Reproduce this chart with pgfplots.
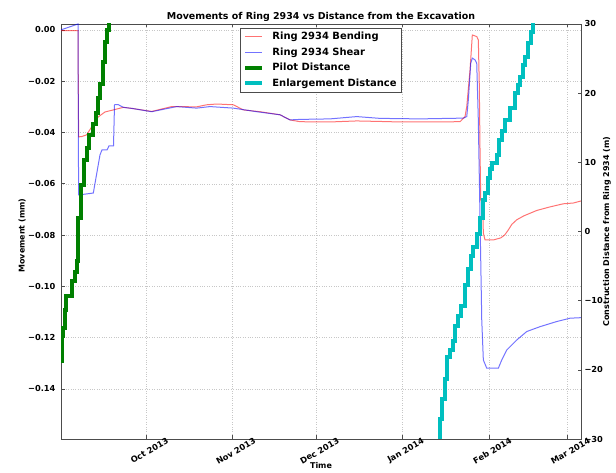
\documentclass[border=0pt]{standalone}
\usepackage{fontspec}
\setmainfont{DejaVu Sans}
\usepackage{pgfplots}
\pgfplotsset{compat=1.18}

\definecolor{pilotgreen}{RGB}{0,128,0}
\definecolor{enlcyan}{RGB}{0,191,191}

% x is days after 1 Sep 2013
\pgfplotsset{
  twin/.style={
    scale only axis, width=520bp, height=415bp,
    at={(61bp,34bp)}, anchor=south west,
    xmin=-0.5, xmax=186,
    axis line style={black!70, line width=0.8bp},
    tick style={black!70, line width=0.6bp},
    tick align=inside, major tick length=3.5bp,
    tick label style={font=\bfseries\fontsize{8.3}{10}\selectfont},
    label style={font=\bfseries\fontsize{8}{10}\selectfont},
  },
  bend/.style={red, draw opacity=0.55, line width=1bp},
  shear/.style={blue, draw opacity=0.55, line width=1bp},
}

\begin{document}
\begin{tikzpicture}[x=1bp,y=1bp]
\useasboundingbox (0,0) rectangle (616,473);

\begin{axis}[twin,
  ymin=-0.1595, ymax=0.0023,
  ytick pos=left,
  xtick={30,61,91,122,153,181},
  xticklabels={Oct 2013,Nov 2013,Dec 2013,Jan 2014,Feb 2014,Mar 2014},
  xticklabel style={rotate=30, anchor=center, yshift=-12bp, xshift=-3bp},
  ytick={0,-0.02,-0.04,-0.06,-0.08,-0.10,-0.12,-0.14},
  yticklabels={0.00,−0.02,−0.04,−0.06,−0.08,−0.10,−0.12,−0.14},
  yticklabel style={xshift=-2bp},
  grid=major, grid style={black!22, dotted, line width=0.5bp},
  title={Movements of Ring 2934 vs Distance from the Excavation},
  title style={font=\bfseries\fontsize{9.5}{11}\selectfont, yshift=-7bp},
  xlabel={Time},
  xlabel style={at={(axis description cs:0.5,0)}, anchor=center, yshift=-27bp},
  ylabel={Movement (mm)},
  ylabel style={at={(axis description cs:-0.075,0.49)}, anchor=center},
]
\addplot[bend] coordinates {
(-0.5,-0.0003) (5.6,-0.0003) (5.81,-0.0417) (6.92,-0.0416) (8.72,-0.0409)
(10.51,-0.0378) (12.88,-0.0339) (15.28,-0.0320) (18.26,-0.0312) (21.85,-0.0302)
(24.86,-0.0306) (32.03,-0.0318) (39.21,-0.0299) (48.17,-0.0300) (51.76,-0.0292)
(55.35,-0.0289) (61.3,-0.0292) (64.89,-0.0312) (70.88,-0.0319) (78.05,-0.0331)
(81.64,-0.0351) (85.23,-0.0358) (95.99,-0.0359) (105.56,-0.0355) (113.92,-0.0357)
(121.09,-0.0359) (128.27,-0.0359) (142.61,-0.0358) (144.41,-0.0338) (145.02,-0.0299)
(146.2,-0.0156) (147.02,-0.0020) (148.6,-0.0026) (149.17,-0.0039) (149.53,-0.0221)
(149.79,-0.0480) (150.04,-0.0663) (150.75,-0.0689) (150.97,-0.0792) (151.58,-0.0819)
(154.56,-0.0819) (157.2,-0.0811) (158.6,-0.0800) (159.8,-0.0782) (161.2,-0.0758)
(163.0,-0.0740) (165.5,-0.0725) (170.13,-0.0704) (174.9,-0.0690) (179.67,-0.0678)
(183.25,-0.0675) (186,-0.0667)
};
\addplot[shear] coordinates {
(-0.5,0.0) (5.6,0.0023) (5.81,-0.0643) (6.31,-0.0643) (11.09,-0.0636)
(13.49,-0.0487) (14.21,-0.0468) (16.0,-0.0468) (16.72,-0.0452) (18.33,-0.0452)
(18.69,-0.0292) (19.94,-0.0291) (21.85,-0.0302) (24.86,-0.0306) (32.03,-0.0319)
(41.0,-0.0299) (48.17,-0.0305) (52.94,-0.0299) (61.3,-0.0305) (69.69,-0.0319)
(78.05,-0.0331) (81.64,-0.0351) (85.23,-0.0349) (95.99,-0.0347) (105.56,-0.0338)
(113.92,-0.0345) (128.27,-0.0347) (143.8,-0.0344) (145.02,-0.0338) (145.59,-0.0273)
(146.45,-0.0130) (147.02,-0.0110) (148.0,-0.0117) (148.6,-0.0130) (149.17,-0.0351)
(149.79,-0.0741) (150.4,-0.1131) (150.97,-0.1287) (152.19,-0.1319) (156.35,-0.1319)
(157.57,-0.1287) (159.37,-0.1248) (162.95,-0.1209) (166.54,-0.1176) (171.31,-0.1157)
(177.3,-0.1137) (182.07,-0.1124) (186,-0.1122)
};
\end{axis}

\begin{axis}[twin,
  axis y line*=right, axis x line=none,
  ymin=-30, ymax=30,
  ytick={-30,-20,-10,0,10,20,30},
  yticklabels={−30,−20,−10,0,10,20,30},
  ylabel={Construction Distance from Ring 2934 (m)},
  ylabel style={at={(axis description cs:1.05,0.5)}, anchor=center},
  legend style={at={(0.5,1)}, anchor=north, yshift=-4bp, draw=black!70,
    fill=white, font=\bfseries\fontsize{10}{12}\selectfont,
    cells={anchor=west}, row sep=2.5bp, inner xsep=3bp,
    /tikz/every odd column/.append style={column sep=6bp}},
  legend image code/.code={\draw[#1] (0bp,0bp) -- (17bp,0bp);},
  legend entries={Ring 2934 Bending, Ring 2934 Shear, Pilot Distance, Enlargement Distance},
]
\addlegendimage{bend}
\addlegendimage{shear}
\addplot[const plot, pilotgreen, line width=4bp] coordinates {
(-0.5,-18.7) (-0.14,-15.1) (0.22,-13.9) (0.76,-11.4) (1.47,-9.3) (3.45,-7.1)
(4.52,-5.9) (5.06,-4.2) (5.6,1.9) (6.5,4.5) (6.85,6.7) (7.75,10.3) (8.65,12.0)
(9.72,13.9) (10.98,15.5) (12.05,17.2) (12.77,19.3) (13.49,21.3) (14.39,24.5)
(15.28,27.4) (16.0,29.1) (16.54,30.6) (17,32)
};
\addplot[const plot, enlcyan, line width=4bp] coordinates {
(135.08,-30.3) (135.26,-27.1) (136.05,-24.2) (137.05,-21.3) (138.06,-18.1)
(139.03,-17.2) (140.21,-15.8) (140.82,-13.6) (141.9,-12.2) (142.97,-10.7)
(144.41,-7.8) (145.48,-5.4) (146.56,-3.5) (147.27,-2.3) (148.71,-0.3)
(149.79,2.0) (150.86,4.5) (151.58,5.5) (152.66,7.8) (153.37,9.1) (154.09,9.9)
(155.88,11.0) (156.6,13.2) (157.68,14.6) (158.75,16.1) (160.55,17.8)
(162.34,20.0) (163.42,21.2) (164.13,22.3) (165.21,24.1) (165.93,25.2)
(167.0,27.2) (168.08,28.8) (168.8,30.6)
};
\end{axis}
\end{tikzpicture}
\end{document}
